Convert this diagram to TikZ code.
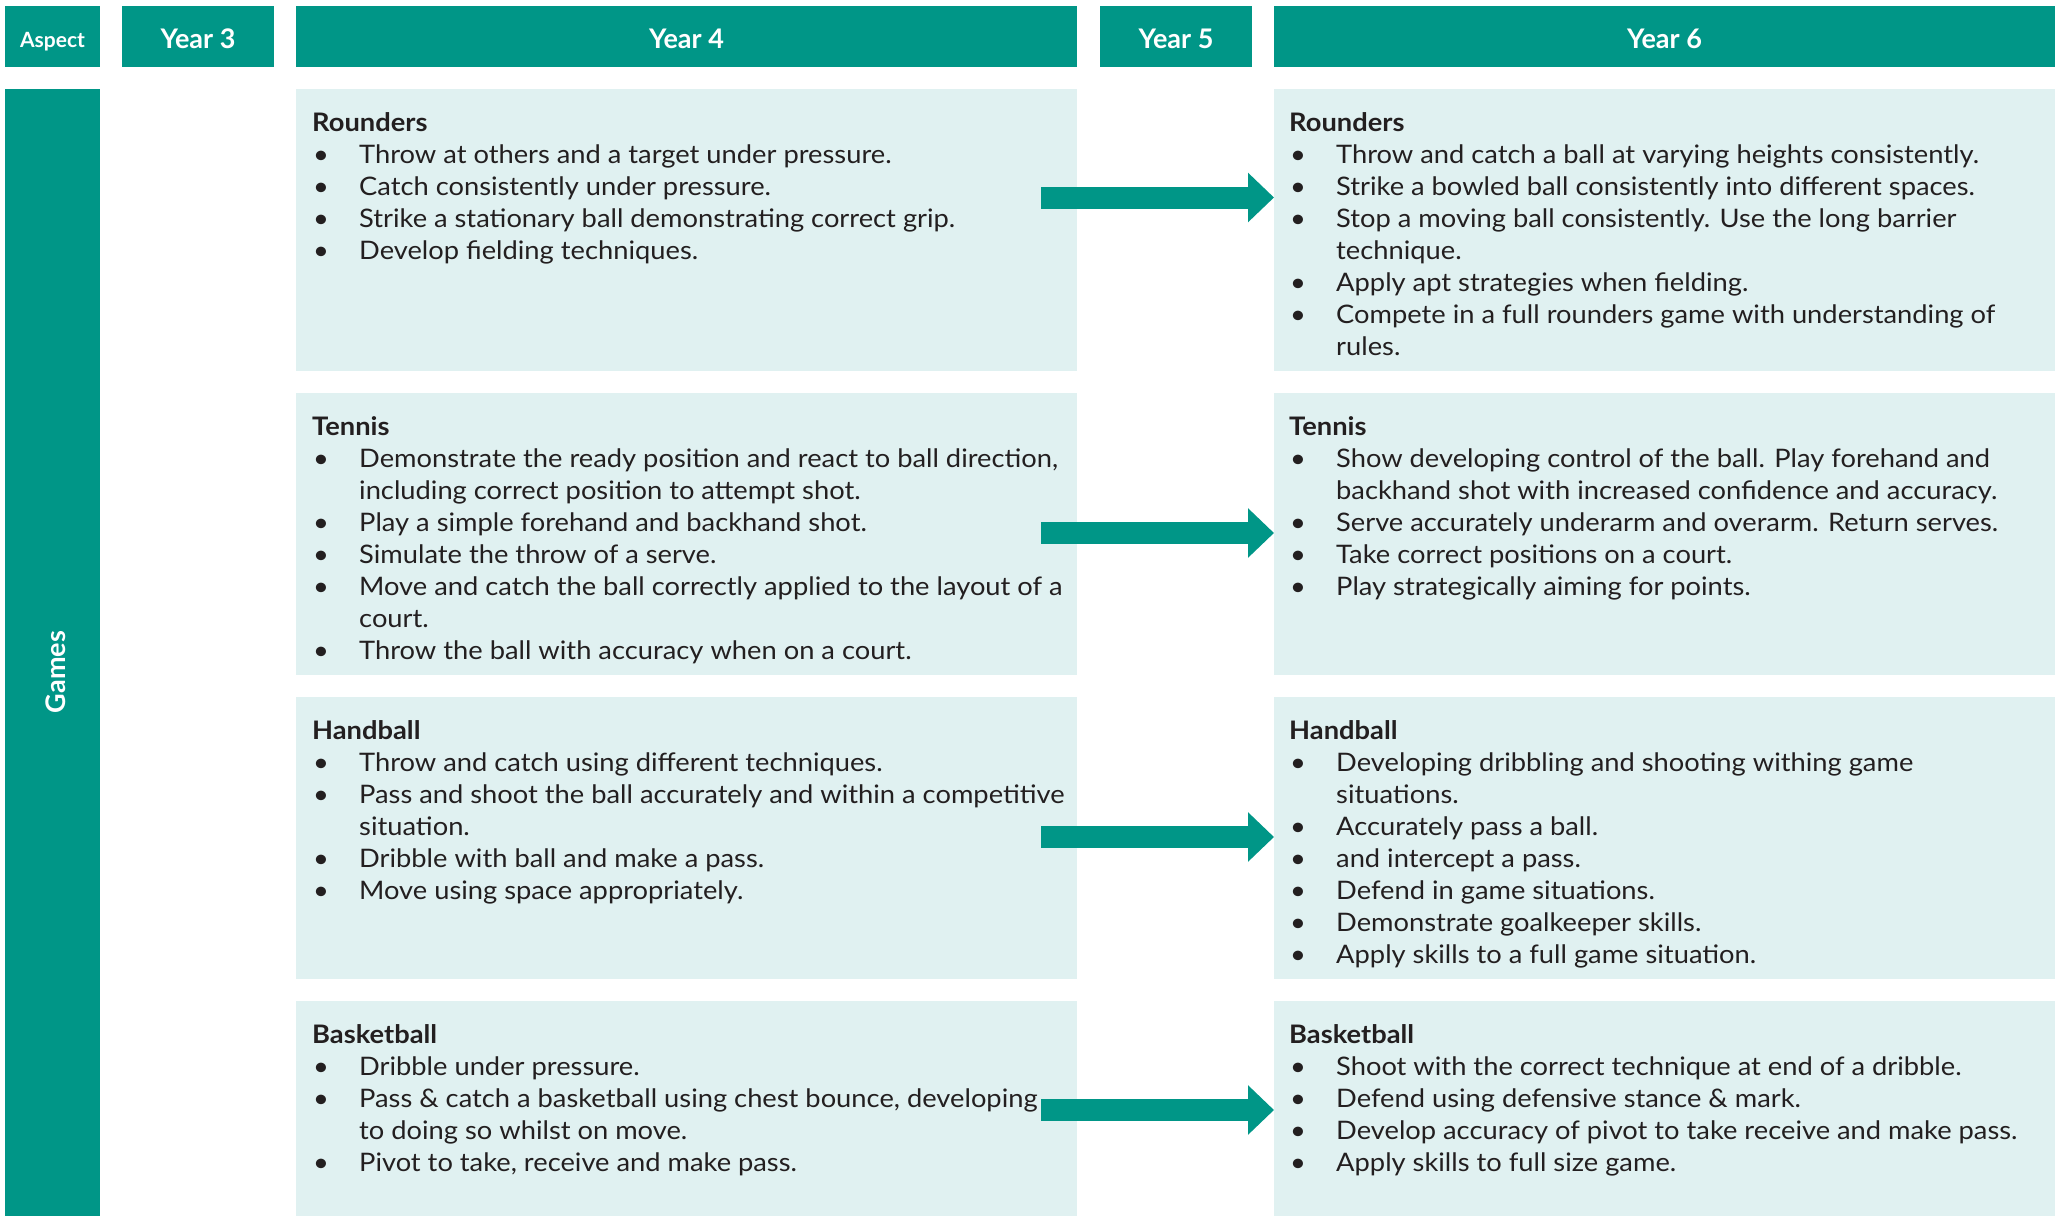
\documentclass[tikz,border=0pt]{standalone}
\usepackage{fontspec}
\setmainfont{Lato}[FakeStretch=1.07]
\newfontfamily\hdrfont{Lato}
\usetikzlibrary{arrows.meta}
\definecolor{teal0}{HTML}{009687}
\definecolor{light0}{HTML}{E0F1F1}
\definecolor{ink}{HTML}{231F20}
\newcommand\itm{\makebox[47pt][l]{\hspace{1pt}\textbullet}}
\newcommand\cnt{\hspace*{47pt}}
\newcommand\ttl[1]{\strut\textbf{#1}}
\tikzset{
  hdr/.style={fill=teal0, draw=none, inner sep=0, anchor=north west},
  lbox/.style={fill=light0, draw=none, inner sep=0, anchor=north west, minimum width=781pt, minimum height=282pt},
  hdrtxt/.style={text=white, font=\hdrfont\bfseries\fontsize{27pt}{32pt}\selectfont, inner sep=0, anchor=base},
  body/.style={text=ink, align=left, inner sep=0, anchor=north west, font=\fontsize{25.5pt}{32pt}\selectfont},
  arr/.style={draw=teal0, line width=22pt, -{Triangle[length=26pt,width=48pt]}}
}
\begin{document}
\begin{tikzpicture}[x=1pt,y=-1pt]
\useasboundingbox (0,0) rectangle (2063,1216);
% header
\node[hdr, minimum width=95pt, minimum height=61pt] (hA) at (5,6) {};
\node[hdr, minimum width=152pt, minimum height=61pt] (h3) at (122,6) {};
\node[hdr, minimum width=781pt, minimum height=61pt] (h4) at (296,6) {};
\node[hdr, minimum width=152pt, minimum height=61pt] (h5) at (1100,6) {};
\node[hdr, minimum width=781pt, minimum height=61pt] (h6) at (1274,6) {};
\node[hdrtxt, font=\hdrfont\bfseries\fontsize{21pt}{24pt}\selectfont] (tA) at (52.5,47) {Aspect};
\node[hdrtxt] (t3) at (198,48) {Year 3};
\node[hdrtxt] (t4) at (686.5,48) {Year 4};
\node[hdrtxt] (t5) at (1176,48) {Year 5};
\node[hdrtxt] (t6) at (1664.5,48) {Year 6};
% games bar
\node[hdr, minimum width=95pt, minimum height=1127pt] (gbar) at (5,89) {};
\node[hdrtxt, rotate=90] (tG) at (65,672) {Games};
% boxes
\node[lbox] (b41) at (296,89) {};
\node[lbox] (b61) at (1274,89) {};
\node[lbox] (b42) at (296,393) {};
\node[lbox] (b62) at (1274,393) {};
\node[lbox] (b43) at (296,697) {};
\node[lbox] (b63) at (1274,697) {};
\node[lbox, minimum height=215pt] (b44) at (296,1001) {};
\node[lbox, minimum height=215pt] (b64) at (1274,1001) {};
% texts (first baseline = box top + 42.5)
\node[body] (x41) at (312,109.1) {\ttl{Rounders}\\
\itm Throw at others and a target under pressure.\\
\itm Catch consistently under pressure.\\
\itm Strike a stationary ball demonstrating correct grip.\\
\itm Develop fielding techniques.};
\node[body] (x61) at (1289,109.1) {\ttl{Rounders}\\
\itm Throw and catch a ball at varying heights consistently.\\
\itm Strike a bowled ball consistently into different spaces.\\
\itm Stop a moving ball consistently. Use the long barrier\\
\cnt technique.\\
\itm Apply apt strategies when fielding.\\
\itm Compete in a full rounders game with understanding of\\
\cnt rules.};
\node[body] (x42) at (312,413.1) {\ttl{Tennis}\\
\itm Demonstrate the ready position and react to ball direction,\\
\cnt including correct position to attempt shot.\\
\itm Play a simple forehand and backhand shot.\\
\itm Simulate the throw of a serve.\\
\itm Move and catch the ball correctly applied to the layout of a\\
\cnt court.\\
\itm Throw the ball with accuracy when on a court.};
\node[body] (x62) at (1289,413.1) {\ttl{Tennis}\\
\itm Show developing control of the ball. Play forehand and\\
\cnt backhand shot with increased confidence and accuracy.\\
\itm Serve accurately underarm and overarm. Return serves.\\
\itm Take correct positions on a court.\\
\itm Play strategically aiming for points.};
\node[body] (x43) at (312,717.1) {\ttl{Handball}\\
\itm Throw and catch using different techniques.\\
\itm Pass and shoot the ball accurately and within a competitive\\
\cnt situation.\\
\itm Dribble with ball and make a pass.\\
\itm Move using space appropriately.};
\node[body] (x63) at (1289,717.1) {\ttl{Handball}\\
\itm Developing dribbling and shooting withing game\\
\cnt situations.\\
\itm Accurately pass a ball.\\
\itm and intercept a pass.\\
\itm Defend in game situations.\\
\itm Demonstrate goalkeeper skills.\\
\itm Apply skills to a full game situation.};
\node[body] (x44) at (312,1021.1) {\ttl{Basketball}\\
\itm Dribble under pressure.\\
\itm Pass \& catch a basketball using chest bounce, developing\\
\cnt to doing so whilst on move.\\
\itm Pivot to take, receive and make pass.};
\node[body] (x64) at (1289,1021.1) {\ttl{Basketball}\\
\itm Shoot with the correct technique at end of a dribble.\\
\itm Defend using defensive stance \& mark.\\
\itm Develop accuracy of pivot to take receive and make pass.\\
\itm Apply skills to full size game.};
% arrows
\coordinate (a1) at (1041,197.5);
\coordinate (a2) at (1041,533);
\coordinate (a3) at (1041,837);
\coordinate (a4) at (1041,1110);
\draw[arr] (a1) -- (b61.west |- a1);
\draw[arr] (a2) -- (b62.west |- a2);
\draw[arr] (a3) -- (b63.west |- a3);
\draw[arr] (a4) -- (b64.west |- a4);
\end{tikzpicture}
\end{document}
